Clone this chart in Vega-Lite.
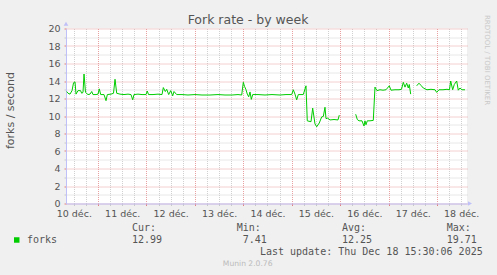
{
  "$schema": "https://vega.github.io/schema/vega-lite/v6.json",
  "width": 401,
  "height": 175,
  "autosize": "none",
  "padding": {"left": 66, "top": 28.5, "right": 30, "bottom": 71.5},
  "background": "#F0F0F0",
  "config": {
    "view": {"fill": "#FFFFFF", "stroke": null},
    "font": "DejaVu Sans"
  },
  "title": {
    "text": "Fork rate - by week",
    "font": "DejaVu Sans",
    "fontSize": 12.5,
    "fontWeight": "normal",
    "color": "#555555",
    "anchor": "middle",
    "frame": "group",
    "dx": -18.5,
    "dy": 12,
    "offset": 0
  },
  "datasets": {
    "series": [
      {"t": "2025-12-10T08:29", "forks": 12.8},
      {"t": "2025-12-10T09:08", "forks": 12.6},
      {"t": "2025-12-10T10:07", "forks": 12.5},
      {"t": "2025-12-10T11:07", "forks": 12.9},
      {"t": "2025-12-10T11:52", "forks": 13.8},
      {"t": "2025-12-10T12:36", "forks": 13.9},
      {"t": "2025-12-10T13:06", "forks": 12.5},
      {"t": "2025-12-10T14:05", "forks": 12.9},
      {"t": "2025-12-10T15:20", "forks": 12.9},
      {"t": "2025-12-10T15:55", "forks": 12.6},
      {"t": "2025-12-10T16:34", "forks": 12.7},
      {"t": "2025-12-10T17:04", "forks": 14.8},
      {"t": "2025-12-10T17:48", "forks": 12.7},
      {"t": "2025-12-10T19:02", "forks": 12.45},
      {"t": "2025-12-10T20:02", "forks": 12.5},
      {"t": "2025-12-10T20:53", "forks": 12.8},
      {"t": "2025-12-10T21:31", "forks": 12.45},
      {"t": "2025-12-10T23:01", "forks": 12.45},
      {"t": "2025-12-11T00:00", "forks": 12.5},
      {"t": "2025-12-11T00:38", "forks": 13.1},
      {"t": "2025-12-11T01:20", "forks": 12.45},
      {"t": "2025-12-11T02:58", "forks": 12.45},
      {"t": "2025-12-11T03:58", "forks": 11.75},
      {"t": "2025-12-11T04:37", "forks": 12.45},
      {"t": "2025-12-11T06:26", "forks": 12.5},
      {"t": "2025-12-11T07:41", "forks": 12.6},
      {"t": "2025-12-11T08:26", "forks": 14.2},
      {"t": "2025-12-11T09:16", "forks": 12.6},
      {"t": "2025-12-11T10:54", "forks": 12.5},
      {"t": "2025-12-11T12:53", "forks": 12.45},
      {"t": "2025-12-11T14:52", "forks": 12.5},
      {"t": "2025-12-11T16:21", "forks": 12.45},
      {"t": "2025-12-11T17:12", "forks": 11.85},
      {"t": "2025-12-11T17:50", "forks": 12.45},
      {"t": "2025-12-11T19:49", "forks": 12.5},
      {"t": "2025-12-11T21:49", "forks": 12.45},
      {"t": "2025-12-11T23:47", "forks": 12.45},
      {"t": "2025-12-12T00:26", "forks": 12.85},
      {"t": "2025-12-12T01:02", "forks": 12.45},
      {"t": "2025-12-12T03:16", "forks": 12.45},
      {"t": "2025-12-12T05:44", "forks": 12.5},
      {"t": "2025-12-12T07:43", "forks": 12.45},
      {"t": "2025-12-12T08:22", "forks": 13.25},
      {"t": "2025-12-12T09:21", "forks": 12.8},
      {"t": "2025-12-12T10:03", "forks": 13.05},
      {"t": "2025-12-12T11:02", "forks": 12.45},
      {"t": "2025-12-12T12:02", "forks": 12.9},
      {"t": "2025-12-12T13:01", "forks": 12.3},
      {"t": "2025-12-12T13:40", "forks": 12.8},
      {"t": "2025-12-12T15:00", "forks": 12.45},
      {"t": "2025-12-12T17:38", "forks": 12.45},
      {"t": "2025-12-12T20:36", "forks": 12.4},
      {"t": "2025-12-13T00:04", "forks": 12.45},
      {"t": "2025-12-13T03:32", "forks": 12.4},
      {"t": "2025-12-13T07:31", "forks": 12.4},
      {"t": "2025-12-13T11:28", "forks": 12.45},
      {"t": "2025-12-13T14:56", "forks": 12.4},
      {"t": "2025-12-13T18:25", "forks": 12.4},
      {"t": "2025-12-13T21:23", "forks": 12.45},
      {"t": "2025-12-13T23:13", "forks": 12.4},
      {"t": "2025-12-14T00:01", "forks": 13.85},
      {"t": "2025-12-14T00:36", "forks": 13.4},
      {"t": "2025-12-14T01:21", "forks": 13.0},
      {"t": "2025-12-14T01:59", "forks": 12.5},
      {"t": "2025-12-14T02:41", "forks": 12.2},
      {"t": "2025-12-14T03:20", "forks": 12.75},
      {"t": "2025-12-14T03:59", "forks": 11.9},
      {"t": "2025-12-14T04:40", "forks": 12.45},
      {"t": "2025-12-14T07:18", "forks": 12.45},
      {"t": "2025-12-14T10:46", "forks": 12.4},
      {"t": "2025-12-14T14:14", "forks": 12.45},
      {"t": "2025-12-14T18:12", "forks": 12.4},
      {"t": "2025-12-14T21:10", "forks": 12.45},
      {"t": "2025-12-15T00:00", "forks": 12.45},
      {"t": "2025-12-15T00:47", "forks": 13.0},
      {"t": "2025-12-15T01:38", "forks": 12.5},
      {"t": "2025-12-15T02:28", "forks": 11.85},
      {"t": "2025-12-15T03:16", "forks": 12.45},
      {"t": "2025-12-15T05:44", "forks": 12.45},
      {"t": "2025-12-15T07:05", "forks": 13.45},
      {"t": "2025-12-15T07:43", "forks": 9.45},
      {"t": "2025-12-15T08:34", "forks": 9.4},
      {"t": "2025-12-15T09:34", "forks": 9.35},
      {"t": "2025-12-15T10:24", "forks": 10.9},
      {"t": "2025-12-15T11:32", "forks": 9.1},
      {"t": "2025-12-15T12:23", "forks": 8.77},
      {"t": "2025-12-15T13:40", "forks": 9.2},
      {"t": "2025-12-15T14:52", "forks": 9.9},
      {"t": "2025-12-15T15:40", "forks": 9.95},
      {"t": "2025-12-15T16:30", "forks": 11.0},
      {"t": "2025-12-15T17:00", "forks": 9.7},
      {"t": "2025-12-15T17:50", "forks": 9.75},
      {"t": "2025-12-15T18:59", "forks": 9.55},
      {"t": "2025-12-15T20:58", "forks": 9.6},
      {"t": "2025-12-15T22:56", "forks": 9.55},
      {"t": "2025-12-15T23:35", "forks": 10.1},
      {"t": "2025-12-16T03:30", "forks": null},
      {"t": "2025-12-16T07:43", "forks": 10.2},
      {"t": "2025-12-16T08:31", "forks": 9.6},
      {"t": "2025-12-16T09:21", "forks": 9.45},
      {"t": "2025-12-16T10:50", "forks": 9.45},
      {"t": "2025-12-16T11:50", "forks": 8.85},
      {"t": "2025-12-16T12:19", "forks": 9.45},
      {"t": "2025-12-16T12:49", "forks": 9.0},
      {"t": "2025-12-16T13:28", "forks": 9.45},
      {"t": "2025-12-16T14:48", "forks": 9.45},
      {"t": "2025-12-16T16:26", "forks": 9.5},
      {"t": "2025-12-16T17:17", "forks": 13.3},
      {"t": "2025-12-16T18:16", "forks": 12.9},
      {"t": "2025-12-16T19:46", "forks": 13.0},
      {"t": "2025-12-16T21:15", "forks": 12.95},
      {"t": "2025-12-16T22:44", "forks": 13.0},
      {"t": "2025-12-17T00:22", "forks": 13.45},
      {"t": "2025-12-17T01:13", "forks": 12.95},
      {"t": "2025-12-17T03:11", "forks": 13.0},
      {"t": "2025-12-17T05:11", "forks": 13.0},
      {"t": "2025-12-17T06:25", "forks": 13.05},
      {"t": "2025-12-17T07:19", "forks": 13.85},
      {"t": "2025-12-17T08:09", "forks": 13.3},
      {"t": "2025-12-17T08:59", "forks": 13.75},
      {"t": "2025-12-17T09:47", "forks": 13.2},
      {"t": "2025-12-17T10:17", "forks": 13.6},
      {"t": "2025-12-17T10:58", "forks": 12.5},
      {"t": "2025-12-17T12:30", "forks": null},
      {"t": "2025-12-17T13:57", "forks": 13.45},
      {"t": "2025-12-17T15:05", "forks": 13.75},
      {"t": "2025-12-17T16:05", "forks": 13.5},
      {"t": "2025-12-17T17:13", "forks": 13.2},
      {"t": "2025-12-17T19:03", "forks": 13.0},
      {"t": "2025-12-17T21:02", "forks": 13.05},
      {"t": "2025-12-17T23:01", "forks": 13.0},
      {"t": "2025-12-17T23:52", "forks": 12.7},
      {"t": "2025-12-18T01:00", "forks": 13.0},
      {"t": "2025-12-18T02:59", "forks": 13.0},
      {"t": "2025-12-18T04:58", "forks": 13.05},
      {"t": "2025-12-18T06:12", "forks": 13.0},
      {"t": "2025-12-18T06:48", "forks": 14.0},
      {"t": "2025-12-18T07:47", "forks": 13.0},
      {"t": "2025-12-18T08:35", "forks": 13.6},
      {"t": "2025-12-18T09:46", "forks": 14.0},
      {"t": "2025-12-18T10:34", "forks": 12.95},
      {"t": "2025-12-18T11:25", "forks": 13.2},
      {"t": "2025-12-18T12:24", "forks": 13.0},
      {"t": "2025-12-18T13:53", "forks": 13.0}
    ],
    "stats": [
      {"stat": "Cur:", "v": 12.99},
      {"stat": "Min:", "v": 7.41},
      {"stat": "Avg:", "v": 12.25},
      {"stat": "Max:", "v": 19.71}
    ],
    "one": [{"series": "forks"}]
  },
  "layer": [
    {
      "data": {"name": "series"},
      "mark": {"type": "line", "color": "#00CC00", "strokeWidth": 1, "invalid": "break-paths-show-domains"},
      "encoding": {
        "x": {
          "field": "t",
          "type": "temporal",
          "scale": {
            "domain": [
              {"year": 2025, "month": 12, "date": 10, "hours": 8, "minutes": 8},
              {"year": 2025, "month": 12, "date": 18, "hours": 14, "minutes": 53}
            ],
            "nice": false
          },
          "axis": {
            "title": null,
            "tickCount": 200,
            "values": [
              {"year": 2025, "month": 12, "date": 10, "hours": 12},
              {"year": 2025, "month": 12, "date": 10, "hours": 18},
              {"year": 2025, "month": 12, "date": 11, "hours": 0},
              {"year": 2025, "month": 12, "date": 11, "hours": 6},
              {"year": 2025, "month": 12, "date": 11, "hours": 12},
              {"year": 2025, "month": 12, "date": 11, "hours": 18},
              {"year": 2025, "month": 12, "date": 12, "hours": 0},
              {"year": 2025, "month": 12, "date": 12, "hours": 6},
              {"year": 2025, "month": 12, "date": 12, "hours": 12},
              {"year": 2025, "month": 12, "date": 12, "hours": 18},
              {"year": 2025, "month": 12, "date": 13, "hours": 0},
              {"year": 2025, "month": 12, "date": 13, "hours": 6},
              {"year": 2025, "month": 12, "date": 13, "hours": 12},
              {"year": 2025, "month": 12, "date": 13, "hours": 18},
              {"year": 2025, "month": 12, "date": 14, "hours": 0},
              {"year": 2025, "month": 12, "date": 14, "hours": 6},
              {"year": 2025, "month": 12, "date": 14, "hours": 12},
              {"year": 2025, "month": 12, "date": 14, "hours": 18},
              {"year": 2025, "month": 12, "date": 15, "hours": 0},
              {"year": 2025, "month": 12, "date": 15, "hours": 6},
              {"year": 2025, "month": 12, "date": 15, "hours": 12},
              {"year": 2025, "month": 12, "date": 15, "hours": 18},
              {"year": 2025, "month": 12, "date": 16, "hours": 0},
              {"year": 2025, "month": 12, "date": 16, "hours": 6},
              {"year": 2025, "month": 12, "date": 16, "hours": 12},
              {"year": 2025, "month": 12, "date": 16, "hours": 18},
              {"year": 2025, "month": 12, "date": 17, "hours": 0},
              {"year": 2025, "month": 12, "date": 17, "hours": 6},
              {"year": 2025, "month": 12, "date": 17, "hours": 12},
              {"year": 2025, "month": 12, "date": 17, "hours": 18},
              {"year": 2025, "month": 12, "date": 18, "hours": 0},
              {"year": 2025, "month": 12, "date": 18, "hours": 6},
              {"year": 2025, "month": 12, "date": 18, "hours": 12}
            ],
            "labelExpr": "hours(datum.value) === 12 ? date(datum.value) + ' déc.' : ''",
            "labelOverlap": false,
            "labelBound": false,
            "labelFlush": false,
            "labelFont": "DejaVu Sans",
            "labelFontSize": 9.5,
            "labelColor": "#555555",
            "labelPadding": 3,
            "labelBaseline": "top",
            "grid": true,
            "gridDash": [1, 1],
            "gridColor": {"condition": {"test": "hours(datum.value) === 0", "value": "#E8A0A0"}, "value": "#D0D0D0"},
            "gridOpacity": 1,
            "ticks": true,
            "tickSize": 2,
            "tickColor": {"condition": {"test": "hours(datum.value) === 0", "value": "#E08080"}, "value": "#C8C8C8"},
            "domainColor": "#C0C0F8",
            "domainWidth": 1
          }
        },
        "y": {
          "field": "forks",
          "type": "quantitative",
          "scale": {"domain": [0, 20], "nice": false, "zero": true},
          "axis": {
            "title": "forks / second",
            "titleFont": "DejaVu Sans",
            "titleFontSize": 11,
            "titleFontWeight": "normal",
            "titleColor": "#555555",
            "titleX": -56,
            "titleY": 81.5,
            "titleAlign": "center",
            "titleBaseline": "middle",
            "titleAngle": -90,
            "tickCount": 200,
            "format": "d",
            "values": [0,1,2,3,4,5,6,7,8,9,10,11,12,13,14,15,16,17,18,19,20],
            "labelExpr": "datum.value % 2 === 0 ? datum.label : ''",
            "labelFont": "DejaVu Sans",
            "labelFontSize": 9.5,
            "labelColor": "#555555",
            "labelPadding": 4,
            "labelOverlap": false,
            "labelBound": false,
            "labelFlush": false,
            "grid": true,
            "gridDash": [1, 1],
            "gridColor": {"condition": {"test": "datum.value % 2 === 0", "value": "#E8A0A0"}, "value": "#D0D0D0"},
            "gridOpacity": 1,
            "ticks": true,
            "tickSize": 2,
            "tickColor": {"condition": {"test": "datum.value % 2 === 0", "value": "#E08080"}, "value": "#C8C8C8"},
            "domainColor": "#C0C0F8",
            "domainWidth": 1
          }
        }
      }
    },
    {
      "data": {"name": "one"},
      "mark": {"type": "point", "shape": "triangle-up", "filled": true, "size": 22, "color": "#C0C0F8", "opacity": 1},
      "encoding": {
        "x": {"datum": {"year": 2025, "month": 12, "date": 10, "hours": 8, "minutes": 8}, "type": "temporal"},
        "y": {"datum": 20.55, "type": "quantitative"}
      }
    },
    {
      "data": {"name": "one"},
      "mark": {"type": "point", "shape": "triangle-right", "filled": true, "size": 22, "color": "#C0C0F8", "opacity": 1},
      "encoding": {
        "x": {"datum": {"year": 2025, "month": 12, "date": 18, "hours": 16, "minutes": 22}, "type": "temporal"},
        "y": {"datum": 0, "type": "quantitative"}
      }
    },
    {
      "data": {"name": "one"},
      "mark": {"type": "point", "shape": "square", "filled": true, "size": 30, "color": "#00CC00", "opacity": 1},
      "encoding": {
        "x": {"datum": {"year": 2025, "month": 12, "date": 9, "hours": 7, "minutes": 43}, "type": "temporal"},
        "y": {"datum": -4.17, "type": "quantitative"}
      }
    },
    {
      "data": {"name": "one"},
      "mark": {"type": "text", "align": "left", "baseline": "middle", "font": "DejaVu Sans Mono", "fontSize": 10, "color": "#555555"},
      "encoding": {
        "x": {"datum": {"year": 2025, "month": 12, "date": 9, "hours": 12, "minutes": 49}, "type": "temporal"},
        "y": {"datum": -4.17, "type": "quantitative"},
        "text": {"field": "series"}
      }
    },
    {
      "data": {"name": "stats"},
      "transform": [{"filter": "datum.stat === 'Cur:'"}],
      "encoding": {
        "x": {"datum": {"year": 2025, "month": 12, "date": 11, "hours": 16, "minutes": 51}, "type": "temporal"}
      },
      "layer": [
        {
          "mark": {"type": "text", "align": "left", "baseline": "middle", "font": "DejaVu Sans Mono", "fontSize": 10, "color": "#555555"},
          "encoding": {"y": {"datum": -2.857, "type": "quantitative"}, "text": {"field": "stat"}}
        },
        {
          "mark": {"type": "text", "align": "left", "baseline": "middle", "font": "DejaVu Sans Mono", "fontSize": 10, "color": "#555555"},
          "encoding": {"y": {"datum": -4.17, "type": "quantitative"}, "text": {"field": "v", "format": ".2f"}}
        }
      ]
    },
    {
      "data": {"name": "stats"},
      "transform": [{"filter": "datum.stat === 'Min:'"}],
      "layer": [
        {
          "mark": {"type": "text", "align": "left", "baseline": "middle", "font": "DejaVu Sans Mono", "fontSize": 10, "color": "#555555"},
          "encoding": {
            "x": {"datum": {"year": 2025, "month": 12, "date": 13, "hours": 20, "minutes": 44}, "type": "temporal"},
            "y": {"datum": -2.857, "type": "quantitative"},
            "text": {"field": "stat"}
          }
        },
        {
          "mark": {"type": "text", "align": "left", "baseline": "middle", "font": "DejaVu Sans Mono", "fontSize": 10, "color": "#555555"},
          "encoding": {
            "x": {"datum": {"year": 2025, "month": 12, "date": 13, "hours": 23, "minutes": 43}, "type": "temporal"},
            "y": {"datum": -4.17, "type": "quantitative"},
            "text": {"field": "v", "format": ".2f"}
          }
        }
      ]
    },
    {
      "data": {"name": "stats"},
      "transform": [{"filter": "datum.stat === 'Avg:'"}],
      "encoding": {
        "x": {"datum": {"year": 2025, "month": 12, "date": 16, "hours": 0, "minutes": 56}, "type": "temporal"}
      },
      "layer": [
        {
          "mark": {"type": "text", "align": "left", "baseline": "middle", "font": "DejaVu Sans Mono", "fontSize": 10, "color": "#555555"},
          "encoding": {"y": {"datum": -2.857, "type": "quantitative"}, "text": {"field": "stat"}}
        },
        {
          "mark": {"type": "text", "align": "left", "baseline": "middle", "font": "DejaVu Sans Mono", "fontSize": 10, "color": "#555555"},
          "encoding": {"y": {"datum": -4.17, "type": "quantitative"}, "text": {"field": "v", "format": ".2f"}}
        }
      ]
    },
    {
      "data": {"name": "stats"},
      "transform": [{"filter": "datum.stat === 'Max:'"}],
      "encoding": {
        "x": {"datum": {"year": 2025, "month": 12, "date": 18, "hours": 4, "minutes": 49}, "type": "temporal"}
      },
      "layer": [
        {
          "mark": {"type": "text", "align": "left", "baseline": "middle", "font": "DejaVu Sans Mono", "fontSize": 10, "color": "#555555"},
          "encoding": {"y": {"datum": -2.857, "type": "quantitative"}, "text": {"field": "stat"}}
        },
        {
          "mark": {"type": "text", "align": "left", "baseline": "middle", "font": "DejaVu Sans Mono", "fontSize": 10, "color": "#555555"},
          "encoding": {"y": {"datum": -4.17, "type": "quantitative"}, "text": {"field": "v", "format": ".2f"}}
        }
      ]
    },
    {
      "data": {"name": "one"},
      "mark": {"type": "text", "align": "right", "baseline": "middle", "font": "DejaVu Sans Mono", "fontSize": 10, "color": "#555555"},
      "encoding": {
        "x": {"datum": {"year": 2025, "month": 12, "date": 18, "hours": 22, "minutes": 40}, "type": "temporal"},
        "y": {"datum": -5.54, "type": "quantitative"},
        "text": {"value": "Last update: Thu Dec 18 15:30:06 2025"}
      }
    },
    {
      "data": {"name": "one"},
      "mark": {"type": "text", "align": "center", "baseline": "middle", "font": "DejaVu Sans", "fontSize": 7.6, "color": "#BBBBBB"},
      "encoding": {
        "x": {"datum": {"year": 2025, "month": 12, "date": 14, "hours": 2, "minutes": 11}, "type": "temporal"},
        "y": {"datum": -6.97, "type": "quantitative"},
        "text": {"value": "Munin 2.0.76"}
      }
    },
    {
      "data": {"name": "one"},
      "mark": {"type": "text", "align": "center", "baseline": "middle", "angle": 90, "font": "DejaVu Sans", "fontSize": 7, "color": "#C8C8C8"},
      "encoding": {
        "x": {"datum": {"year": 2025, "month": 12, "date": 19, "hours": 0, "minutes": 47}, "type": "temporal"},
        "y": {"datum": 16.4, "type": "quantitative"},
        "text": {"value": "RRDTOOL / TOBI OETIKER"}
      }
    }
  ]
}
